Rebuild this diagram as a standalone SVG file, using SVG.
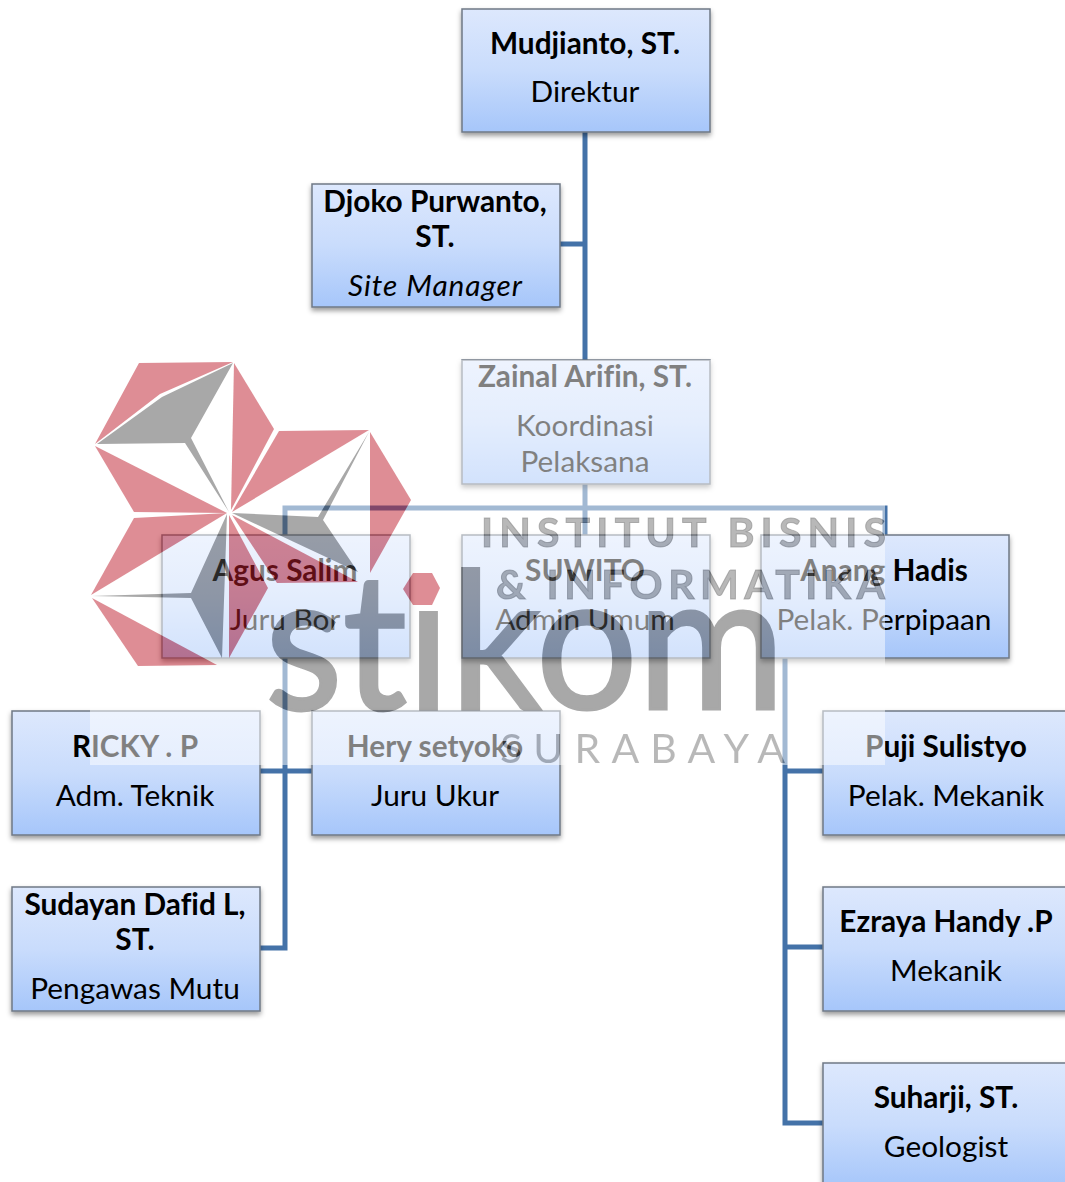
<svg xmlns="http://www.w3.org/2000/svg" width="1065" height="1182" viewBox="0 0 1065 1182">
<defs>
<linearGradient id="g" x1="0" y1="0" x2="0" y2="1"><stop offset="0" stop-color="#DDE8FD"/><stop offset="0.5" stop-color="#C9DCFC"/><stop offset="1" stop-color="#A6C6FA"/></linearGradient>
<filter id="s" x="-5%" y="-5%" width="110%" height="115%"><feDropShadow dx="0" dy="3" stdDeviation="2.5" flood-color="#000" flood-opacity="0.4"/></filter>
</defs>
<style>
.box{fill:url(#g);stroke:#6F7885;stroke-width:1.5;filter:url(#s)}
text{font-family:Lato,"Liberation Sans",sans-serif;font-size:29.8px;fill:#000;text-anchor:middle;font-variant-ligatures:none}
.b{font-weight:700}
.i{font-style:italic}
.c{fill:none;stroke:#4472A8;stroke-width:5}
.r{fill:#BE1E2D}
.k{fill:#535353}
.w{fill:#000;fill-opacity:.55;font-weight:700;font-size:41px;text-anchor:start;stroke:#000;stroke-opacity:.55;stroke-width:1}
</style>
<g id="connectors">
<path class="c" d="M585 132V535M560 244H585M285 535V508H885V535"/>
<path class="c" d="M285 658V948H260M260 771H312"/>
<path class="c" d="M785 658V1123H823M785 771H823M785 947H823"/>
</g>
<g id="n1"><rect class="box" x="462" y="9" width="248" height="123"/><text class="b" x="585" y="54">Mudjianto, ST.</text><text x="585" y="102">Direktur</text></g>
<g id="n2"><rect class="box" x="312" y="184" width="248" height="123"/><text class="b" x="435" y="212">Djoko Purwanto,</text><text class="b" x="435" y="247">ST.</text><text class="i" x="435" y="296" textLength="174">Site Manager</text></g>
<g id="n3"><rect class="box" x="462" y="360" width="248" height="124"/><text class="b" x="585" y="387">Zainal Arifin, ST.</text><text x="585" y="436">Koordinasi</text><text x="585" y="472">Pelaksana</text></g>
<g id="n4"><rect class="box" x="162" y="535" width="248" height="123"/><text class="b" x="285" y="581">Agus Salim</text><text x="285" y="630">Juru Bor</text></g>
<g id="n5"><rect class="box" x="462" y="535" width="248" height="123"/><text class="b" x="585" y="581">SUWITO</text><text x="585" y="630">Admin Umum</text></g>
<g id="n6"><rect class="box" x="761" y="535" width="248" height="123"/><text class="b" x="884" y="581">Anang Hadis</text><text x="884" y="630">Pelak. Perpipaan</text></g>
<g id="n7"><rect class="box" x="12" y="711" width="248" height="124"/><text class="b" x="135" y="757">RICKY . P</text><text x="135" y="806">Adm. Teknik</text></g>
<g id="n8"><rect class="box" x="312" y="711" width="248" height="124"/><text class="b" x="435" y="757">Hery setyoko</text><text x="435" y="806">Juru Ukur</text></g>
<g id="n9"><rect class="box" x="823" y="711" width="248" height="124"/><text class="b" x="946" y="757">Puji Sulistyo</text><text x="946" y="806">Pelak. Mekanik</text></g>
<g id="n10"><rect class="box" x="12" y="887" width="248" height="124"/><text class="b" x="135" y="915">Sudayan Dafid L,</text><text class="b" x="135" y="950">ST.</text><text x="135" y="999">Pengawas Mutu</text></g>
<g id="n11"><rect class="box" x="823" y="887" width="248" height="124"/><text class="b" x="946" y="932">Ezraya Handy .P</text><text x="946" y="981">Mekanik</text></g>
<g id="n12"><rect class="box" x="823" y="1063" width="248" height="124"/><text class="b" x="946" y="1108">Suharji, ST.</text><text x="946" y="1157">Geologist</text></g>
<g id="watermark" opacity="0.5">
<rect x="90" y="360" width="795" height="405" fill="#fff"/>
<polygon class="r" points="139,363 233,362 160,394 95,444"/>
<polygon class="k" points="233,363 191,438 229,512 185,443 97,444 162,397"/>
<polygon class="r" points="234,363 274,429 231,510"/>
<polygon class="r" points="95,446 227,513 134,512"/>
<polygon class="r" points="279,431 369,430 232,512"/>
<polygon class="k" points="369,432 323,520 358,572 232,513 318,517"/>
<polygon class="r" points="370,432 411,500 370,573"/>
<polygon class="r" points="232,515 358,582 277,583"/>
<polygon class="r" points="229,515 229,658 268,588"/>
<polygon class="k" points="227,514 191,593 92,596 191,598 222,658"/>
<polygon class="r" points="134,518 227,513 91,595"/>
<polygon class="r" points="92,598 217,665 138,666"/>
<text x="265" y="709" textLength="520" lengthAdjust="spacingAndGlyphs" style="font-weight:400;font-size:190px;text-anchor:start;fill:#535353;stroke:#535353;stroke-width:3">stikom</text>
<rect x="402" y="555" width="42" height="53" fill="#fff"/>
<polygon class="r" points="403,589 413,573 432,573 440,588 432,605 413,605"/>
<text class="w" x="481" y="547" textLength="405">INSTITUT BISNIS</text>
<text class="w" x="496" y="599" textLength="389">&amp; INFORMATIKA</text>
<text class="w" x="500" y="763" textLength="285" style="font-weight:400;stroke:none">SURABAYA</text>
</g>
</svg>
